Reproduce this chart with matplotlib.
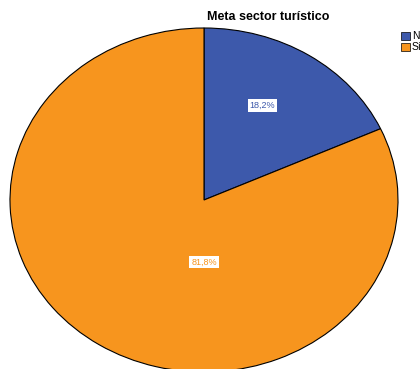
import matplotlib
matplotlib.use("agg")
import matplotlib.pyplot as plt
from matplotlib.patches import Patch

# data
categories = ["No", "Sí"]
shares = [18.2, 81.8]
colors = ["#3d59ab", "#f7951e"]
title = "Meta sector turístico"

plt.rcParams['font.family'] = ['Liberation Sans', 'DejaVu Sans']

fig = plt.figure(figsize=(4.2, 3.69), dpi=100)
fig.patch.set_facecolor("white")

# stretched pie, spilling slightly past the bottom edge
ax = fig.add_axes([10 / 420, -3 / 369, 388 / 420, 344 / 369])
wedges, texts, autotexts = ax.pie(
    shares, colors=colors, startangle=90, counterclock=False,
    autopct=lambda p: f"{p:.1f}%".replace(".", ","), pctdistance=0.6,
    wedgeprops=dict(edgecolor="black", linewidth=0.8))
ax.set_aspect("auto")
ax.set_xlim(-1, 1)
ax.set_ylim(-1, 1)
ax.axis("off")

for t, c in zip(autotexts, colors):
    t.set_color(c)
    t.set_fontsize(6.5)
    t.set_bbox(dict(facecolor="white", edgecolor="none", pad=1.3))
# label placement inside the slices
autotexts[0].set_position((0.30, 0.55))
autotexts[1].set_position((0.0, -0.36))

fig.text(268 / 420, 1 - 17 / 369, title, ha="center", va="center",
         fontsize=9, fontweight="bold")

handles = [Patch(facecolor=c, edgecolor="black", linewidth=0.5) for c in colors]
fig.legend(handles, categories, loc="upper left",
           bbox_to_anchor=(395 / 420, 1 - 25 / 369), frameon=False,
           fontsize=7.5, handlelength=0.8, handleheight=0.8,
           handletextpad=0.2, labelspacing=0.1, borderpad=0.1)

fig.savefig("out.png", dpi=100, facecolor="white")
